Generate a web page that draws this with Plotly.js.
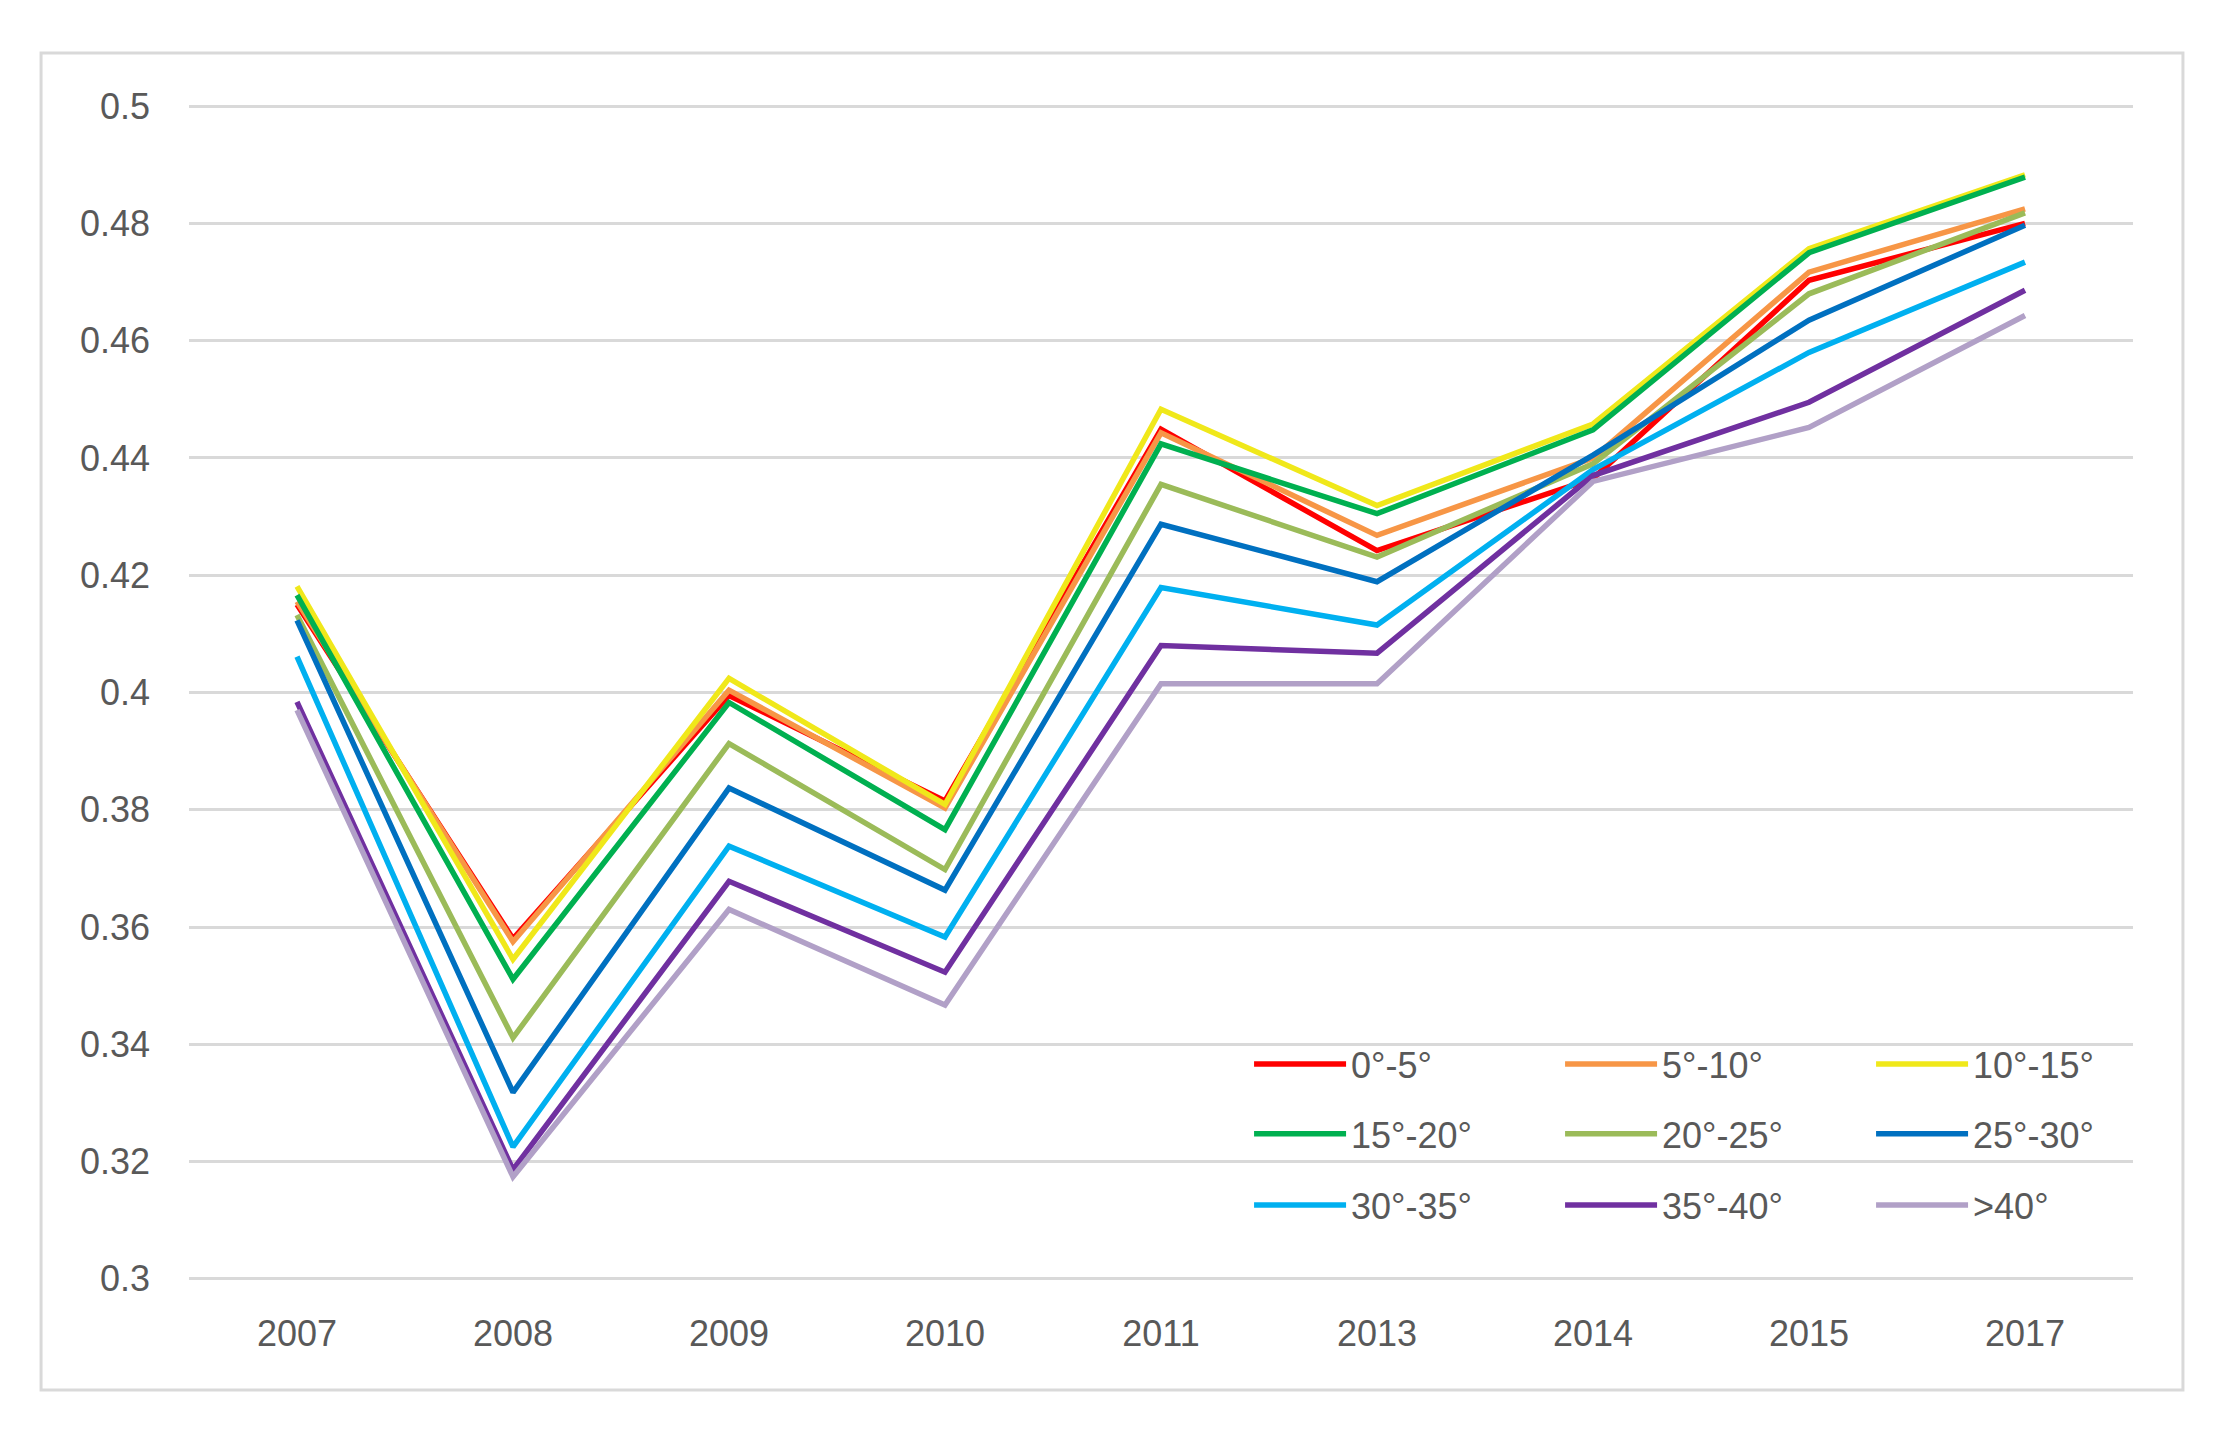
<!DOCTYPE html>
<html>
<head>
<meta charset="utf-8">
<script src="https://cdn.plot.ly/plotly-3.0.1.min.js"></script>
<style>html,body{margin:0;padding:0;background:#fff;}#chart{width:2218px;height:1437px;}</style>
</head>
<body>
<div id="chart"></div>
<script>
var years = ['2007','2008','2009','2010','2011','2013','2014','2015','2017'];
var seriesNames = ['0°-5°','5°-10°','10°-15°','15°-20°','20°-25°','25°-30°','30°-35°','35°-40°','>40°'];
var s0_5   = [0.4150, 0.3580, 0.3995, 0.3815, 0.4449, 0.4242, 0.4365, 0.4703, 0.4800];
var s5_10  = [0.4155, 0.3575, 0.4004, 0.3803, 0.4443, 0.4268, 0.4400, 0.4717, 0.4825];
var s10_15 = [0.4181, 0.3545, 0.4024, 0.3809, 0.4483, 0.4319, 0.4458, 0.4757, 0.4883];
var s15_20 = [0.4166, 0.3511, 0.3983, 0.3766, 0.4424, 0.4305, 0.4448, 0.4750, 0.4879];
var s20_25 = [0.4132, 0.3411, 0.3913, 0.3698, 0.4355, 0.4231, 0.4390, 0.4680, 0.4818];
var s25_30 = [0.4123, 0.3318, 0.3837, 0.3663, 0.4287, 0.4189, 0.4405, 0.4635, 0.4797];
var s30_35 = [0.4061, 0.3225, 0.3738, 0.3583, 0.4179, 0.4115, 0.4380, 0.4580, 0.4734];
var s35_40 = [0.3984, 0.3186, 0.3678, 0.3523, 0.4080, 0.4067, 0.4370, 0.4495, 0.4686];
var s40    = [0.3970, 0.3174, 0.3630, 0.3467, 0.4015, 0.4015, 0.4360, 0.4452, 0.4643];
var yTickVals = [0.3, 0.32, 0.34, 0.36, 0.38, 0.4, 0.42, 0.44, 0.46, 0.48, 0.5];

var allSeries = [s0_5, s5_10, s10_15, s15_20, s20_25, s25_30, s30_35, s35_40, s40];
var colors = ['#FF0000','#F79646','#F0E81A','#00B050','#9BBB59','#0070C0','#00B0F0','#7030A0','#B1A0C7'];
var legendIds = ['legend','legend','legend','legend2','legend2','legend2','legend3','legend3','legend3'];

var traces = allSeries.map(function(vals, i){
  return {
    type: 'scatter', mode: 'lines',
    x: years, y: vals, name: seriesNames[i],
    line: {color: colors[i], width: 5.5},
    legend: legendIds[i]
  };
});

var font = {family: 'Liberation Sans, Arial, sans-serif', size: 36, color: '#595959'};
function leg(yv){
  return {orientation: 'h', x: 0.5453, xanchor: 'left', y: yv, yanchor: 'middle',
          bgcolor: 'rgba(0,0,0,0)', font: font, itemwidth: 92, entrywidth: 204,
          traceorder: 'normal', itemclick: false};
}

var layout = {
  width: 2218, height: 1437,
  margin: {l: 189, r: 85, t: 105, b: 157},
  paper_bgcolor: '#ffffff', plot_bgcolor: '#ffffff',
  font: font,
  showlegend: true,
  xaxis: {type: 'category', range: [-0.5, 8.5], showgrid: false, zeroline: false, showline: false,
          ticks: '', tickfont: font, ticklabelstandoff: 29},
  yaxis: {range: [0.2998, 0.5002], tickvals: yTickVals, ticktext: yTickVals.map(String),
          showgrid: true, gridcolor: '#D9D9D9', gridwidth: 3, zeroline: false, showline: false,
          ticks: '', tickfont: font, ticklabelstandoff: 38},
  legend: leg(0.1838),
  legend2: leg(0.1243),
  legend3: leg(0.0638),
  shapes: [{type: 'rect', xref: 'paper', yref: 'paper', x0: -0.0761, x1: 1.0257, y0: -0.0936, y1: 1.0443,
            line: {color: '#D9D9D9', width: 3}, layer: 'below'}]
};

Plotly.newPlot('chart', traces, layout, {staticPlot: true});
</script>
</body>
</html>
